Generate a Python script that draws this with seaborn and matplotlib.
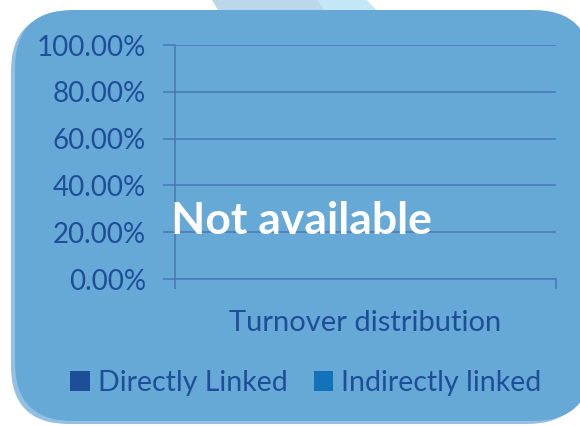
import matplotlib
matplotlib.use("Agg")
import matplotlib.pyplot as plt
from matplotlib.patches import FancyBboxPatch, Polygon
import seaborn as sns
import pandas as pd

# ---- data ----
categories = ["Turnover distribution"]
series = ["Directly Linked", "Indirectly linked"]
directly_linked = [0.0]      # not available
indirectly_linked = [0.0]    # not available
y_ticks = [0, 20, 40, 60, 80, 100]
y_tick_labels = ["0.00%", "20.00%", "40.00%", "60.00%", "80.00%", "100.00%"]
series_colors = ["#1F4E99", "#1272BA"]
overlay_text = "Not available"

sns.set_style("white")
plt.rcParams["font.family"] = ["Lato", "DejaVu Sans"]

df = pd.DataFrame({
    "category": categories * 2,
    "series": [series[0]] * len(categories) + [series[1]] * len(categories),
    "value": directly_linked + indirectly_linked,
})

TEXT = "#1F4E99"
GRID = "#4A78B2"
W, H = 580, 426
fig = plt.figure(figsize=(5.8, 4.26), dpi=100)
fig.patch.set_facecolor("white")

# background decoration
bg = fig.add_axes([0, 0, 1, 1], zorder=0)
bg.set_xlim(0, W)
bg.set_ylim(H, 0)
bg.axis("off")
bg.add_patch(Polygon([(212, 0), (318, 0), (326, 12), (219, 12)], closed=True,
                     facecolor="#BCD6EA", lw=0))
bg.add_patch(Polygon([(318, 0), (367, 0), (378, 12), (326, 12)], closed=True,
                     facecolor="#C3E7F6", lw=0))
bg.add_patch(FancyBboxPatch((11, 13), 574, 411,
                            boxstyle="round,pad=0,rounding_size=58",
                            facecolor="#93C0E2", lw=0))
bg.add_patch(FancyBboxPatch((15, 10), 576, 411,
                            boxstyle="round,pad=0,rounding_size=58",
                            facecolor="#67A9D6", lw=0))

# main chart axes
ax = fig.add_axes([175 / W, 1 - 279 / H, (556 - 175) / W, (279 - 45) / H], zorder=1)
ax.patch.set_alpha(0)
sns.barplot(data=df, x="category", y="value", hue="series", palette=series_colors,
            ax=ax, linewidth=0, saturation=1)
ax.set_ylim(0, 100)
ax.set_xlim(-0.5, 0.5)
ax.set_yticks(y_ticks)
ax.set_yticklabels(y_tick_labels)
ax.set_xlabel("")
ax.set_ylabel("")
ax.yaxis.grid(True, color=GRID, lw=1.1)
ax.xaxis.grid(False)
for s in ["top", "right"]:
    ax.spines[s].set_visible(False)
for s in ["left", "bottom"]:
    ax.spines[s].set_color(GRID)
    ax.spines[s].set_linewidth(1.1)
ax.tick_params(axis="y", left=True, length=9, width=1.1, color=GRID,
               labelcolor=TEXT, labelsize=20, pad=12)
ax.set_xticks([-0.5, 0.5], minor=True)
ax.tick_params(axis="x", which="minor", bottom=True, length=7, width=1.1, color=GRID)
ax.tick_params(axis="x", which="major", bottom=True, length=0, labelcolor=TEXT,
               labelsize=21, pad=22)

leg = ax.get_legend()
if leg is not None:
    leg.remove()
handles, labels = ax.get_legend_handles_labels()
fig.legend(handles, labels, loc="center", bbox_to_anchor=(306 / W, 1 - 383 / H),
           ncol=2, frameon=False, fontsize=20.5, handlelength=0.68, handleheight=0.68,
           handletextpad=0.3, columnspacing=0.9, labelcolor=TEXT)

fig.text(301 / W, 1 - 221 / H, overlay_text, ha="center", va="center",
         fontsize=32, fontweight="bold", color="white", zorder=5)

fig.savefig("out.png", dpi=100)
